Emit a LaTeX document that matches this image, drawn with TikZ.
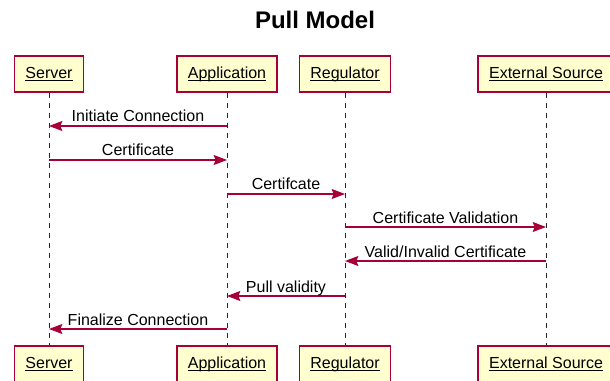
\documentclass[tikz,border=0pt]{standalone}
\usepackage{fontspec}
\setmainfont{Liberation Sans}
\usetikzlibrary{arrows.meta}
\definecolor{umlred}{HTML}{A80036}
\definecolor{umlfill}{HTML}{FEFECE}

% underline at a fixed depth, whatever the letters
\newcommand{\uname}[1]{\setbox0\hbox{#1}\rlap{\rule[-1.8pt]{\wd0}{0.7pt}}\box0}

\begin{document}
\begin{tikzpicture}[x=0.75pt, y=-0.75pt, every node/.style={font=\fontsize{12}{14}\selectfont},
    actor/.style={draw=umlred, fill=umlfill, line width=1.1pt, minimum height=27pt,
        text height=9pt, text depth=2.5pt, inner xsep=8.25pt},
    lifeline/.style={black!85, line width=0.75pt, dash pattern=on 3.75pt off 3.75pt},
    msg/.style={umlred, line width=0.8pt, -{Stealth[length=10pt, width=7.5pt, inset=1.5pt]}},
    lbl/.style={black, anchor=base, yshift=3pt, inner sep=0pt}]

    \useasboundingbox (0,0) rectangle (610,381);

    % title
    \node[font=\fontsize{18}{22}\selectfont\bfseries] (title) at (315,20) {Pull Model};

    % participants, top row
    \node[actor] (srv1) at (49,74) {\uname{Server}};
    \node[actor] (app1) at (227,74) {\uname{Application}};
    \node[actor] (reg1) at (345,74) {\uname{Regulator}};
    \node[actor] (ext1) at (546,74) {\uname{External Source}};

    % participants, bottom row
    \node[actor] (srv2) at (49,364) {\uname{Server}};
    \node[actor] (app2) at (227,364) {\uname{Application}};
    \node[actor] (reg2) at (345,364) {\uname{Regulator}};
    \node[actor] (ext2) at (546,364) {\uname{External Source}};

    % lifelines
    \foreach \p in {srv, app, reg, ext}
        \draw[lifeline] (\p1.south) -- (\p2.north);

    % messages
    \foreach \y/\a/\b/\txt in {126/app/srv/Initiate Connection, 160/srv/app/Certificate,
        194/app/reg/Certifcate, 227/reg/ext/Certificate Validation,
        261/ext/reg/{Valid/Invalid Certificate}, 296/reg/app/Pull validity,
        329/app/srv/Finalize Connection}
        \draw[msg] (\a1 |- 0,\y) -- node[lbl] {\txt} (\b1 |- 0,\y);

\end{tikzpicture}
\end{document}
